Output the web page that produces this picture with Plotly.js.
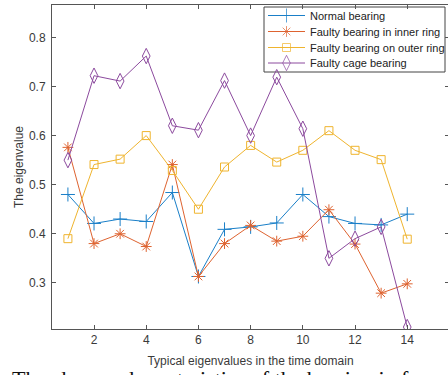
<!DOCTYPE html>
<html>
<head>
<meta charset="utf-8">
<script src="https://cdn.plot.ly/plotly-3.0.1.min.js"></script>
<style>
  html, body { margin: 0; padding: 0; background: #fff; overflow: hidden; width: 448px; height: 375px; }
  #chart { width: 452px; height: 375px; }
</style>
</head>
<body>
<div id="chart"></div>
<script>
// Feature index (typical time-domain eigenvalues 1..14)
const featureIndex = [1, 2, 3, 4, 5, 6, 7, 8, 9, 10, 11, 12, 13, 14];

// Eigenvalue of each feature for the four bearing states
const normalBearing = [0.480, 0.421, 0.430, 0.425, 0.484, 0.313, 0.409, 0.414, 0.422, 0.480, 0.435, 0.421, 0.418, 0.440];
const innerRingFault = [0.576, 0.380, 0.400, 0.374, 0.541, 0.313, 0.380, 0.417, 0.385, 0.395, 0.449, 0.379, 0.279, 0.298];
const outerRingFault = [0.390, 0.541, 0.552, 0.600, 0.529, 0.450, 0.536, 0.580, 0.546, 0.570, 0.610, 0.570, 0.551, 0.389];
const cageFault = [0.550, 0.722, 0.711, 0.762, 0.620, 0.611, 0.712, 0.600, 0.719, 0.614, 0.350, 0.390, 0.414, 0.210];

const seriesNames = [
  "Normal bearing",
  "Faulty bearing in inner ring",
  "Faulty bearing on outer ring",
  "Faulty cage bearing"
];
const xTicks = [2, 4, 6, 8, 10, 12, 14];
const yTicks = [0.3, 0.4, 0.5, 0.6, 0.7, 0.8];

const colors = ["#1a7fc8", "#de6330", "#efb42e", "#8c4a9e"];
const symbols = ["cross-thin-open", "asterisk-open", "square-open", "diamond-tall-open"];
const sizes = [10, 9, 8, 11];
const values = [normalBearing, innerRingFault, outerRingFault, cageFault];

// Plot area in page pixels
const plotLeft = 52, plotRight = 449, plotTop = 5, plotBottom = 329;

const traces = values.map((v, i) => ({
  x: featureIndex,
  y: v,
  name: seriesNames[i],
  type: "scatter",
  mode: "lines+markers",
  line: { color: colors[i], width: 1 },
  marker: { symbol: symbols[i], size: sizes[i], color: colors[i], line: { color: colors[i], width: 1 } }
}));

// Compact legend drawn on a pixel-scaled overlay axis pair
const legendBox = { x0: 264, x1: 445, y0: 7, y1: 72 };
const legendRowY = [15.5, 31.5, 47.5, 63];
const legendLine = { x0: 268, x1: 305, textX: 308 };

legendRowY.forEach((ry, i) => {
  traces.push({
    x: [legendLine.x0, (legendLine.x0 + legendLine.x1) / 2, legendLine.x1],
    y: [ry, ry, ry],
    xaxis: "x2",
    yaxis: "y2",
    type: "scatter",
    mode: "lines+markers",
    hoverinfo: "skip",
    showlegend: false,
    line: { color: colors[i], width: 1 },
    marker: { symbol: symbols[i], size: [0, sizes[i], 0], color: colors[i], line: { color: colors[i], width: 1 } }
  });
});

const axisFont = { family: "Liberation Sans, Arial, sans-serif", size: 12, color: "#3a3a3a" };
const legendFont = { family: "Liberation Sans, Arial, sans-serif", size: 11, color: "#222" };

const annotations = seriesNames.map((name, i) => ({
  xref: "x2",
  yref: "y2",
  x: legendLine.textX,
  y: legendRowY[i],
  xanchor: "left",
  yanchor: "middle",
  showarrow: false,
  text: name,
  font: legendFont
}));

// Caption text running below the figure
annotations.push({
  xref: "paper",
  yref: "paper",
  x: -0.105,
  y: -0.108,
  xanchor: "left",
  yanchor: "top",
  showarrow: false,
  align: "left",
  text: "The change characteristics of the bearing in four states",
  font: { family: "Liberation Serif, Times New Roman, serif", size: 22, color: "#111" }
});

const layout = {
  width: 452,
  height: 375,
  margin: { l: plotLeft, r: 452 - plotRight, t: plotTop, b: 375 - plotBottom },
  paper_bgcolor: "#ffffff",
  plot_bgcolor: "#ffffff",
  showlegend: false,
  xaxis: {
    range: [0.39, 15.6],
    tickvals: xTicks,
    ticktext: xTicks.map(String),
    ticks: "inside",
    ticklen: 4,
    tickcolor: "#555",
    showline: true,
    linecolor: "#555",
    linewidth: 1,
    mirror: "allticks",
    showgrid: false,
    zeroline: false,
    tickfont: axisFont,
    title: { text: "Typical eigenvalues in the time domain", font: axisFont, standoff: 10 }
  },
  yaxis: {
    range: [0.206, 0.866],
    tickvals: yTicks,
    ticktext: yTicks.map(t => t.toFixed(1)),
    ticks: "inside",
    ticklen: 4,
    tickcolor: "#555",
    showline: true,
    linecolor: "#555",
    linewidth: 1,
    mirror: "allticks",
    showgrid: false,
    zeroline: false,
    tickfont: axisFont,
    ticklabelstandoff: 3,
    title: { text: "The eigenvalue", font: axisFont, standoff: 2 }
  },
  xaxis2: { overlaying: "x", range: [plotLeft, plotRight], visible: false, fixedrange: true },
  yaxis2: { overlaying: "y", range: [plotBottom, plotTop], visible: false, fixedrange: true },
  shapes: [{
    type: "rect",
    xref: "x2",
    yref: "y2",
    x0: legendBox.x0,
    x1: legendBox.x1,
    y0: legendBox.y0,
    y1: legendBox.y1,
    line: { color: "#444", width: 1 },
    fillcolor: "#ffffff",
    layer: "below"
  }],
  annotations: annotations
};

Plotly.newPlot("chart", traces, layout, { displayModeBar: false, staticPlot: true });
</script>
</body>
</html>
